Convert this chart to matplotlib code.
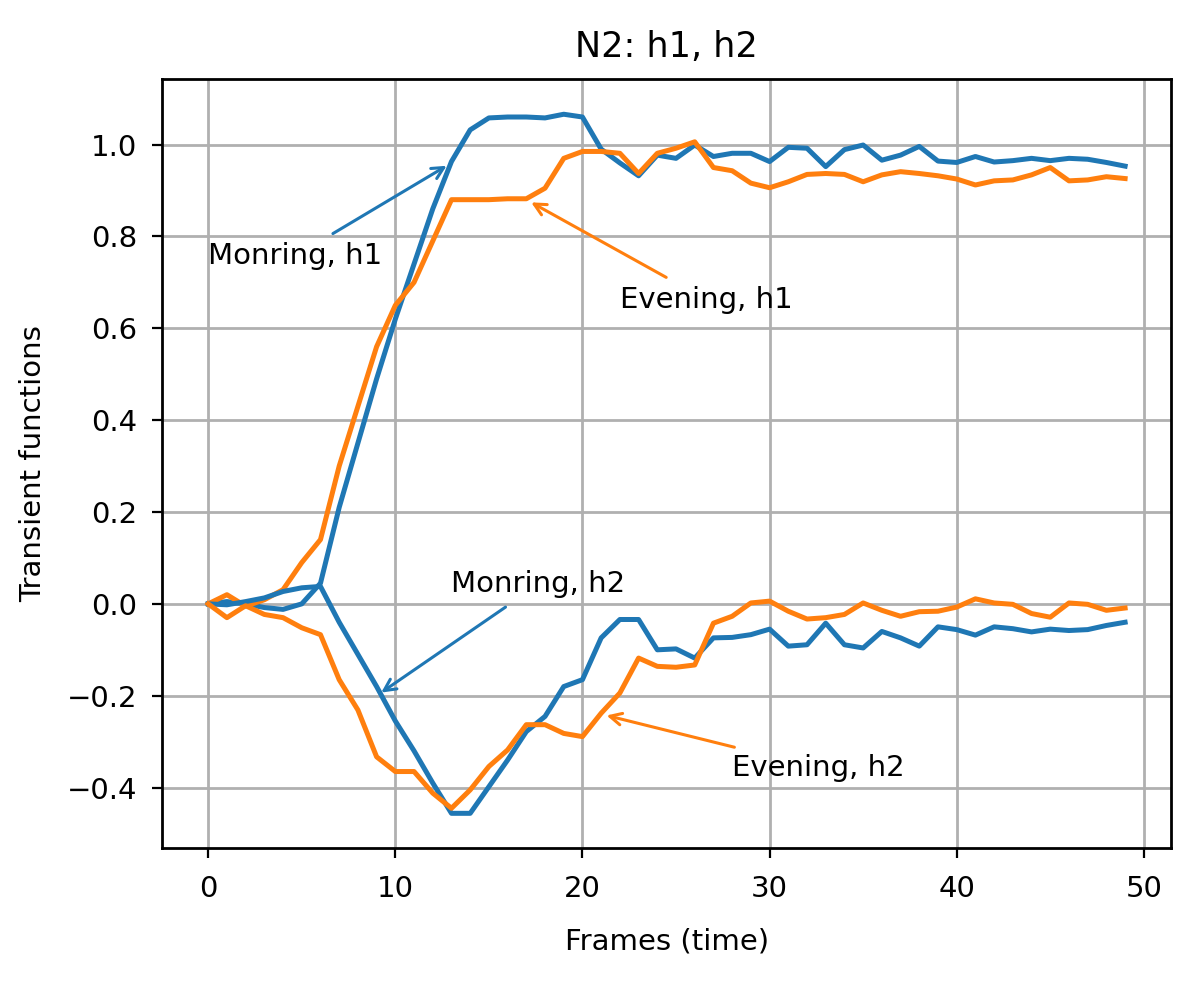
import matplotlib
import matplotlib.pyplot as plt
import numpy as np

matplotlib.use("Agg")

FRAMES = np.arange(50)

MORNING_H1 = [
    0.0, 0.005, 0.0, -0.008, -0.012, 0.0, 0.045, 0.21, 0.35, 0.49,
    0.62, 0.74, 0.86, 0.963, 1.032, 1.058, 1.06, 1.06, 1.058, 1.066,
    1.06, 0.99, 0.96, 0.932, 0.977, 0.97, 0.999, 0.974, 0.981, 0.981,
    0.963, 0.994, 0.992, 0.952, 0.989, 0.999, 0.966, 0.977, 0.996, 0.964,
    0.961, 0.974, 0.962, 0.965, 0.970, 0.965, 0.970, 0.968, 0.961, 0.953,
]
EVENING_H1 = [
    0.0, 0.02, -0.005, 0.009, 0.031, 0.09, 0.14, 0.30, 0.43, 0.56,
    0.65, 0.70, 0.79, 0.88, 0.88, 0.88, 0.882, 0.882, 0.905, 0.97,
    0.985, 0.985, 0.981, 0.937, 0.981, 0.992, 1.006, 0.950, 0.943, 0.916,
    0.906, 0.919, 0.935, 0.937, 0.935, 0.919, 0.934, 0.941, 0.937, 0.932,
    0.925, 0.912, 0.921, 0.923, 0.934, 0.950, 0.921, 0.923, 0.930, 0.926,
]
MORNING_H2 = [
    0.0, -0.002, 0.005, 0.013, 0.027, 0.035, 0.038, -0.04, -0.11, -0.18,
    -0.255, -0.32, -0.39, -0.456, -0.456, -0.398, -0.34, -0.278, -0.245, -0.18,
    -0.165, -0.074, -0.034, -0.034, -0.10, -0.098, -0.118, -0.074, -0.073, -0.067,
    -0.055, -0.092, -0.089, -0.042, -0.089, -0.096, -0.06, -0.074, -0.092, -0.05,
    -0.056, -0.068, -0.05, -0.054, -0.061, -0.055, -0.058, -0.056, -0.047, -0.04,
]
EVENING_H2 = [
    0.0, -0.03, -0.004, -0.023, -0.03, -0.052, -0.067, -0.165, -0.231, -0.333,
    -0.365, -0.365, -0.412, -0.445, -0.405, -0.354, -0.318, -0.263, -0.263, -0.282,
    -0.289, -0.238, -0.194, -0.118, -0.136, -0.138, -0.133, -0.042, -0.027, 0.002,
    0.006, -0.016, -0.033, -0.03, -0.023, 0.002, -0.014, -0.027, -0.017, -0.016,
    -0.007, 0.011, 0.002, -0.001, -0.021, -0.029, 0.002, -0.001, -0.014, -0.009,
]

# (label, point on curve, text position, colour)
NOTES = [
    ("Monring, h1", (13, 0.96), (0, 0.74), "C0"),
    ("Evening, h1", (17, 0.88), (22, 0.645), "C1"),
    ("Monring, h2", (9, -0.2), (13, 0.025), "C0"),
    ("Evening, h2", (21, -0.24), (28, -0.375), "C1"),
]

plt.rcParams["font.size"] = 10.5

fig = plt.figure(figsize=(6.0, 4.925), dpi=200)
ax = fig.add_axes([0.1353, 0.1388, 0.8405, 0.7807])

ax.plot(FRAMES, MORNING_H1, color="C0", lw=1.8)
ax.plot(FRAMES, EVENING_H1, color="C1", lw=1.8)
ax.plot(FRAMES, MORNING_H2, color="C0", lw=1.8)
ax.plot(FRAMES, EVENING_H2, color="C1", lw=1.8)

for text, xy, xytext, color in NOTES:
    ax.annotate(text, xy=xy, xytext=xytext,
                arrowprops=dict(arrowstyle="->", color=color, lw=1.1))

ax.grid(True, color="#b0b0b0", lw=1.0)
ax.set_xticks([0, 10, 20, 30, 40, 50])
ax.tick_params(axis="x", pad=6)
ax.tick_params(axis="y", pad=5.5)
ax.set_xlabel("Frames (time)", labelpad=9)
ax.set_ylabel("Transient functions", labelpad=7)
ax.set_title("N2: h1, h2", fontsize=12.6, pad=8)
for spine in ax.spines.values():
    spine.set_linewidth(1.0)

fig.savefig("out.png", dpi=200)
